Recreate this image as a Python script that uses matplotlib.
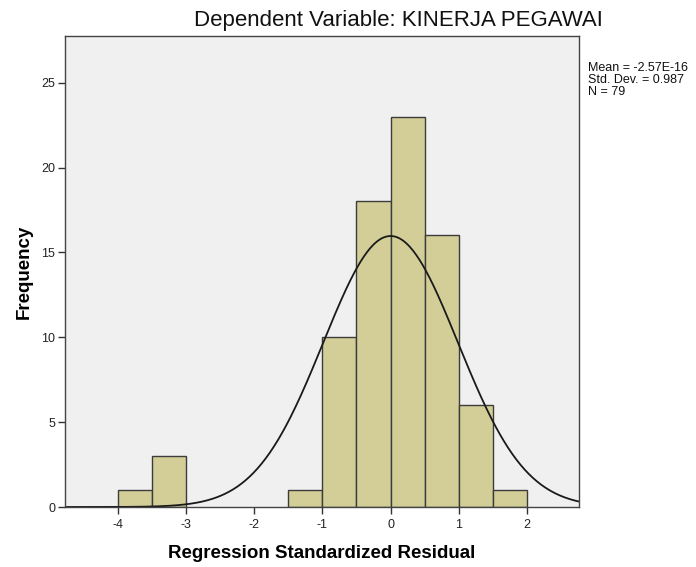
import numpy as np
import matplotlib
matplotlib.use("Agg")
import matplotlib.pyplot as plt

plt.rcParams['font.family'] = ['Liberation Sans', 'DejaVu Sans']

bin_edges = [-4.0, -3.5, -3.0, -2.5, -2.0, -1.5, -1.0, -0.5, 0.0, 0.5, 1.0, 1.5, 2.0]
counts = [1, 3, 0, 0, 0, 1, 10, 18, 23, 16, 6, 1]
mean = -2.57e-16
std = 0.987
n = 79
xticks = [-4, -3, -2, -1, 0, 1, 2]
yticks = [0, 5, 10, 15, 20, 25]

fig = plt.figure(figsize=(6.96, 5.67), dpi=100)
ax = fig.add_axes([65/696, 1-507/567, (579-65)/696, (507-36)/567])
ax.set_facecolor('#F0F0F0')

lefts = np.array(bin_edges[:-1])
widths = np.diff(bin_edges)
for l, w, c in zip(lefts, widths, counts):
    if c > 0:
        ax.bar(l, c, width=w, align='edge', color='#D3CE98', edgecolor='#3C3C3C', linewidth=1.0)

xs = np.linspace(-4.77, 2.76, 500)
bw = 0.5
ys = n * bw / (std * np.sqrt(2*np.pi)) * np.exp(-0.5*((xs-mean)/std)**2)
ax.plot(xs, ys, color='#1A1A1A', linewidth=1.3)

ax.set_xlim(-4.77, 2.76)
ax.set_ylim(0, 27.75)
ax.set_xticks(xticks)
ax.set_yticks(yticks)
ax.set_xticklabels([str(t) for t in xticks])
ax.tick_params(axis='both', direction='out', length=5, width=1, color='#333333', labelsize=9, labelcolor='#222222')
ax.tick_params(axis='x', pad=4)
ax.tick_params(axis='y', pad=2)
for s in ax.spines.values():
    s.set_color('#444444')
    s.set_linewidth(1.0)

ax.set_xlabel('Regression Standardized Residual', fontsize=13.5, fontweight='bold', labelpad=10)
ax.set_ylabel('Frequency', fontsize=13.5, fontweight='bold', labelpad=6)

fig.text(398.5/696, 1-20.5/567, 'Dependent Variable: KINERJA PEGAWAI', fontsize=16, ha='center', va='center', color='#111111')
fig.text(588/696, 1-62/567, 'Mean = -2.57E-16\nStd. Dev. = 0.987\nN = 79', fontsize=9, ha='left', va='top', linespacing=0.98, color='#111111')

fig.savefig('out.png', dpi=100)
